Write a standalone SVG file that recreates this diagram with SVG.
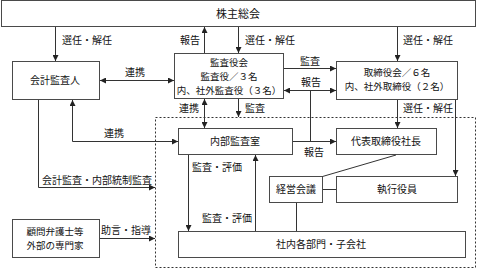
<svg xmlns="http://www.w3.org/2000/svg" width="477" height="269" viewBox="0 0 477 269">
<style>
.b{fill:#fff;stroke:#4a4a4a;stroke-width:1}
.l{fill:none;stroke:#333;stroke-width:1}
.d{fill:none;stroke:#333;stroke-width:1;stroke-dasharray:2,2}
text{font-family:"Noto Sans CJK JP","Noto Sans CJK SC",sans-serif;font-size:10px;fill:#111}
.c{text-anchor:middle}
.s{font-size:9.5px}
</style>
<defs>
<marker id="a" viewBox="0 0 6 6" refX="6" refY="3" markerWidth="6" markerHeight="6" orient="auto-start-reverse" markerUnits="userSpaceOnUse">
<path d="M0,0L6,3L0,6z" fill="#222"/>
</marker>
</defs>
<rect x="155.5" y="117.5" width="320" height="150" class="d"/>
<g id="n1"><rect x="1.5" y="0.5" width="474" height="26" class="b"/><text x="238" y="18" class="c" style="font-size:11px">株主総会</text></g>
<g id="n2"><rect x="12.5" y="61.5" width="87" height="38" class="b"/><text x="55" y="84" class="c">会計監査人</text></g>
<g id="n3"><rect x="174.5" y="53.5" width="109" height="45" class="b"/><text x="229" y="66" class="c s">監査役会</text><text x="229" y="80" class="c s">監査役／３名</text><text x="229" y="94" class="c s">内、社外監査役（３名）</text></g>
<g id="n4"><rect x="336.5" y="61.5" width="121" height="38" class="b"/><text x="397" y="76" class="c s">取締役会／６名</text><text x="397" y="90" class="c s">内、社外取締役（２名）</text></g>
<g id="n5"><rect x="178.5" y="128.5" width="114" height="26" class="b"/><text x="235" y="145" class="c">内部監査室</text></g>
<g id="n6"><rect x="336.5" y="128.5" width="100" height="26" class="b"/><text x="386" y="145" class="c">代表取締役社長</text></g>
<g id="n7"><rect x="269.5" y="176.5" width="53" height="26" class="b"/><text x="296" y="193" class="c">経営会議</text></g>
<g id="n8"><rect x="336.5" y="176.5" width="121" height="26" class="b"/><text x="397" y="193" class="c">執行役員</text></g>
<g id="n9"><rect x="178.5" y="231.5" width="287" height="26" class="b"/><text x="321" y="248" class="c">社内各部門・子会社</text></g>
<g id="n10"><rect x="12.5" y="219.5" width="87" height="38" class="b"/><text x="55" y="234.5" class="c s">顧問弁護士等</text><text x="55" y="248.5" class="c s">外部の専門家</text></g>
<g id="edges">
<path d="M55.5,27V61" class="l" marker-end="url(#a)"/>
<path d="M204.5,53V27" class="l" marker-end="url(#a)"/>
<path d="M238.5,27V53" class="l" marker-end="url(#a)"/>
<path d="M397.5,27V61" class="l" marker-end="url(#a)"/>
<path d="M100,80.5H174" class="l" marker-start="url(#a)" marker-end="url(#a)"/>
<path d="M284,68.5H336" class="l" marker-end="url(#a)"/>
<path d="M284,90.5H336" class="l" marker-start="url(#a)" marker-end="url(#a)"/>
<path d="M310.5,90.5V141.5" class="l"/>
<path d="M293,141.5H336" class="l" marker-end="url(#a)"/>
<path d="M204.5,99V128" class="l" marker-start="url(#a)" marker-end="url(#a)"/>
<path d="M238.5,99V117" class="l" marker-end="url(#a)"/>
<path d="M397.5,100V128" class="l" marker-end="url(#a)"/>
<path d="M455.5,100V176" class="l" marker-end="url(#a)"/>
<path d="M322.5,176.5L396,155" class="l"/>
<path d="M323,189.5H336" class="l"/>
<path d="M296.5,203V231" class="l"/>
<path d="M188.5,155V231" class="l" marker-end="url(#a)"/>
<path d="M255.5,231V155" class="l" marker-end="url(#a)"/>
<path d="M38.5,100V187.5H155" class="l" marker-end="url(#a)"/>
<path d="M72.5,100V141.5H178" class="l" marker-start="url(#a)" marker-end="url(#a)"/>
<path d="M100,238.5H155" class="l" marker-end="url(#a)"/>
</g>
<g id="labels">
<text x="62" y="44">選任・解任</text>
<text x="180" y="44">報告</text>
<text x="245" y="44">選任・解任</text>
<text x="403" y="44">選任・解任</text>
<text x="125" y="76">連携</text>
<text x="300" y="65">監査</text>
<text x="301" y="86">報告</text>
<text x="179" y="112">連携</text>
<text x="245" y="112">監査</text>
<text x="403" y="112">選任・解任</text>
<text x="104" y="137">連携</text>
<text x="304" y="156">報告</text>
<text x="192" y="171">監査・評価</text>
<text x="42" y="184">会計監査・内部統制監査</text>
<text x="202" y="222">監査・評価</text>
<text x="101" y="234">助言・指導</text>
</g>
</svg>
